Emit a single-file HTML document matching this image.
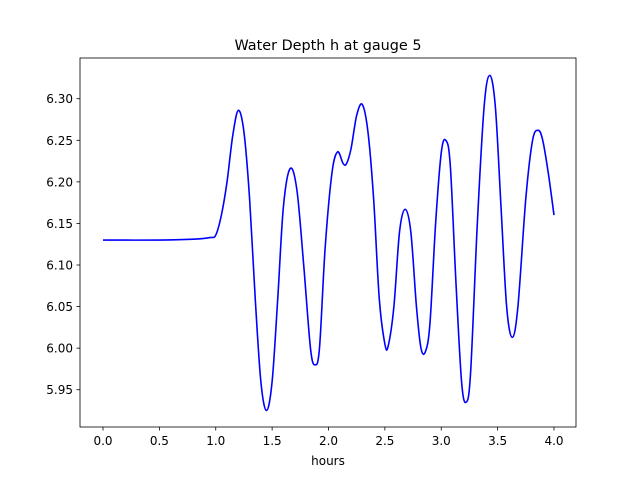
<!DOCTYPE html>
<html><head><meta charset="utf-8"><style>
body{margin:0;background:#fff}
svg{display:block;font-family:"DejaVu Sans","Liberation Sans",sans-serif}
</style></head><body>
<svg id="chart" width="640" height="480" viewBox="0 0 640 480">
<rect x="0" y="0" width="640" height="480" fill="#fff"/>
<text x="328" y="50" text-anchor="middle" font-size="14.4" fill="#000">Water Depth h at gauge 5</text>
<g id="xticks"></g>
<g id="yticks"></g>
<path id="line" fill="none" stroke="#0000ff" stroke-width="1.6"/>
<rect x="80" y="58" width="496" height="369" fill="none" stroke="#000" stroke-width="0.8"/>
<text x="328" y="465" text-anchor="middle" font-size="12" fill="#000">hours</text>
</svg>
<script>
const hours=[0,0.5,0.8,0.95,1.0,1.05,1.1,1.15,1.2,1.25,1.3,1.35,1.4,1.45,1.5,1.55,1.6,1.66,1.72,1.78,1.84,1.88,1.92,1.97,2.03,2.08,2.13,2.16,2.2,2.25,2.3,2.35,2.4,2.45,2.5,2.53,2.58,2.63,2.68,2.73,2.78,2.82,2.86,2.9,2.95,3.0,3.04,3.08,3.13,3.18,3.22,3.26,3.32,3.38,3.43,3.48,3.53,3.58,3.63,3.68,3.75,3.81,3.86,3.9,3.95,4.0];
const depth=[6.130,6.130,6.131,6.133,6.136,6.16,6.20,6.255,6.286,6.26,6.18,6.06,5.96,5.925,5.96,6.06,6.17,6.216,6.19,6.10,6.00,5.98,6.00,6.12,6.21,6.236,6.222,6.222,6.24,6.28,6.293,6.26,6.18,6.06,6.005,6.003,6.05,6.14,6.167,6.14,6.05,6.00,5.996,6.03,6.15,6.235,6.25,6.22,6.08,5.96,5.935,5.97,6.15,6.29,6.328,6.29,6.17,6.05,6.013,6.05,6.18,6.25,6.262,6.25,6.21,6.16];
const xTicks=[0,0.5,1,1.5,2,2.5,3,3.5,4];
const yTicks=[5.95,6.00,6.05,6.10,6.15,6.20,6.25,6.30];
const X=v=>103+v*112.75;
const Y=v=>265-(v-6.10)/0.05*41.57;
const NS="http://www.w3.org/2000/svg";
const xg=document.getElementById('xticks'),yg=document.getElementById('yticks');
xTicks.forEach(t=>{
 const l=document.createElementNS(NS,'line');
 
 
 l.setAttribute('x1',X(t));l.setAttribute('x2',X(t));l.setAttribute('y1',427);l.setAttribute('y2',430.5);l.setAttribute('stroke','#000');l.setAttribute('stroke-width','0.8');
 xg.appendChild(l);
 const s=document.createElementNS(NS,'text');
 
 
 s.setAttribute('x',X(t));s.setAttribute('y',445);s.setAttribute('text-anchor','middle');s.setAttribute('font-size','12');
 s.textContent=t.toFixed(1);xg.appendChild(s);
});
yTicks.forEach(t=>{
 const l=document.createElementNS(NS,'line');
 
 
 l.setAttribute('x1',76.5);l.setAttribute('x2',80);l.setAttribute('y1',Y(t));l.setAttribute('y2',Y(t));l.setAttribute('stroke','#000');l.setAttribute('stroke-width','0.8');
 yg.appendChild(l);
 const s=document.createElementNS(NS,'text');
 
 
 s.setAttribute('x',73);s.setAttribute('y',Y(t)+4.5);s.setAttribute('text-anchor','end');s.setAttribute('font-size','12');
 s.textContent=t.toFixed(2);yg.appendChild(s);
});
const P=hours.map((h,i)=>[X(h),Y(depth[i])]);
let d='M'+P[0][0]+','+P[0][1];
for(let i=0;i<P.length-1;i++){
 const p0=P[Math.max(0,i-1)],p1=P[i],p2=P[i+1],p3=P[Math.min(P.length-1,i+2)];
 const c1=[p1[0]+(p2[0]-p0[0])/6,p1[1]+(p2[1]-p0[1])/6];
 const c2=[p2[0]-(p3[0]-p1[0])/6,p2[1]-(p3[1]-p1[1])/6];
 d+=' C'+c1[0]+','+c1[1]+' '+c2[0]+','+c2[1]+' '+p2[0]+','+p2[1];
}
document.getElementById('line').setAttribute('d',d);
</script>
</body></html>
